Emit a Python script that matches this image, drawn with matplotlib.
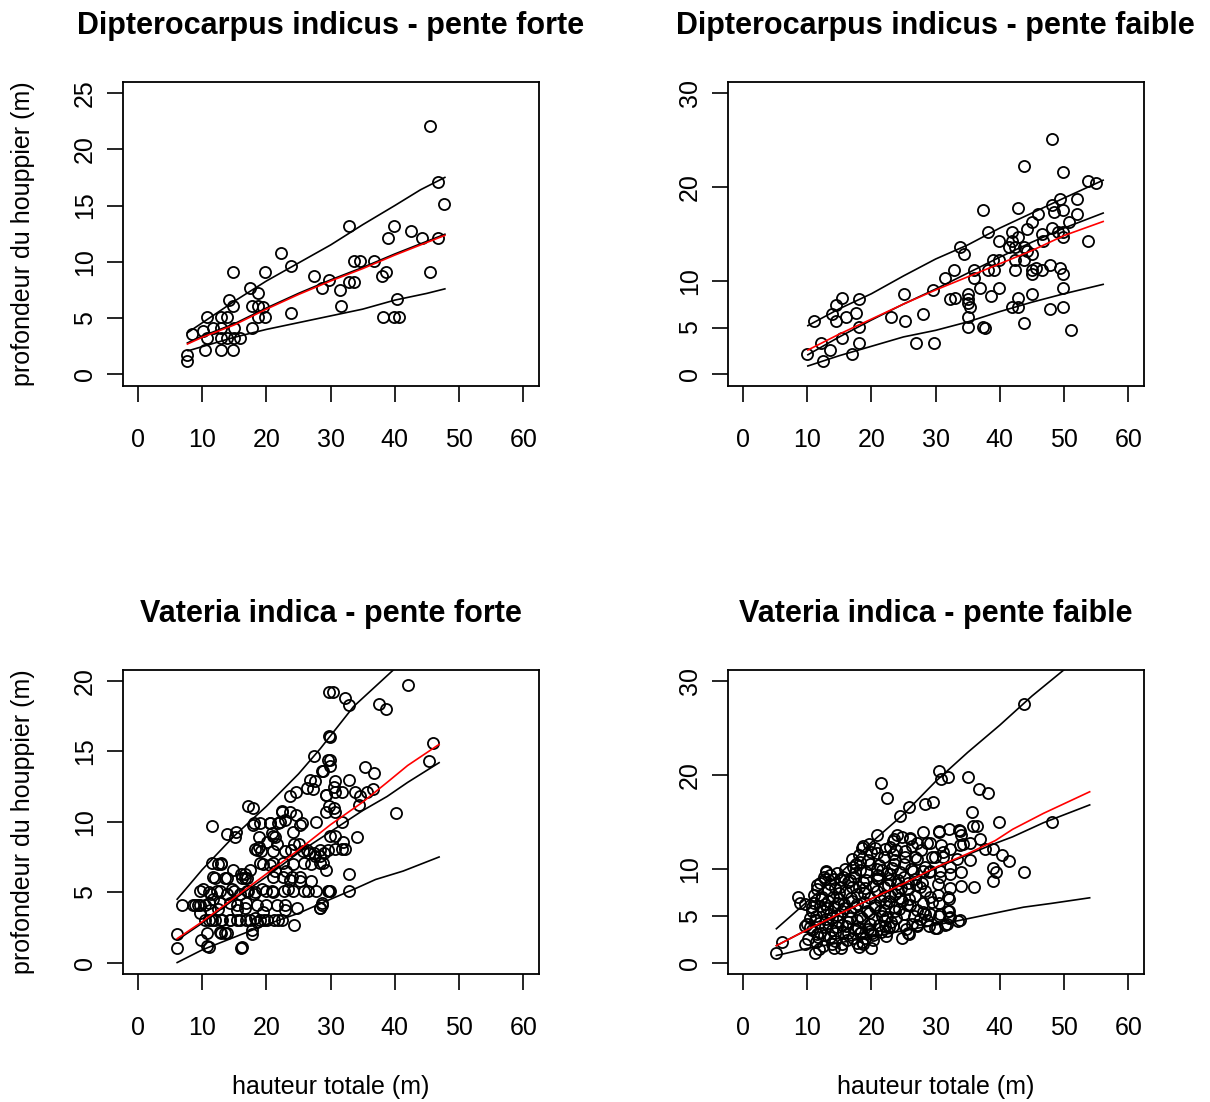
import matplotlib.pyplot as plt

plt.rcParams['font.family'] = ['Liberation Sans', 'DejaVu Sans']

W, H = 1210, 1102

# ---- Dipterocarpus indicus - pente forte
p1_x = [45.5, 46.8, 47.7, 32.8, 39.8, 42.5, 38.9, 44.3, 46.8, 22.3, 23.8, 14.8, 19.8, 33.7, 34.6,
        36.8, 27.4, 29.8, 28.7, 31.4, 32.8, 33.7, 38.0, 38.6, 45.5, 31.6, 40.4, 38.2, 39.9, 40.7,
        17.5, 18.7, 14.1, 14.8, 17.7, 18.7, 19.5, 19.8, 18.7, 23.8, 10.7, 12.9, 13.8, 17.7, 10.2,
        8.4, 11.7, 13.0, 14.9, 10.8, 13.0, 13.8, 14.9, 15.9, 10.5, 12.9, 14.8, 7.7, 7.7]
p1_y = [22.1, 17.1, 15.1, 13.2, 13.2, 12.7, 12.1, 12.1, 12.1, 10.8, 9.6, 9.1, 9.1, 10.1, 10.1,
        10.1, 8.7, 8.4, 7.7, 7.5, 8.2, 8.2, 8.7, 9.1, 9.1, 6.1, 6.7, 5.1, 5.1, 5.1,
        7.7, 7.2, 6.6, 6.1, 6.1, 6.1, 6.0, 5.1, 5.1, 5.5, 5.1, 5.1, 5.1, 4.1, 3.9,
        3.6, 4.1, 4.1, 4.1, 3.2, 3.2, 3.2, 3.2, 3.2, 2.2, 2.2, 2.2, 1.7, 1.2]
p1_haut_x = [7.7, 15, 20, 25, 30, 35, 40, 44, 47.8]
p1_haut_y = [3.7, 6.5, 8.3, 9.9, 11.5, 13.3, 15.0, 16.4, 17.5]
p1_moy_x = [7.7, 10, 15, 20, 25, 30, 35, 40, 44, 47.8]
p1_moy_y = [2.7, 3.3, 4.4, 5.8, 7.1, 8.3, 9.4, 10.6, 11.5, 12.35]
p1_med_y = [2.8, 3.4, 4.5, 5.9, 7.2, 8.4, 9.5, 10.7, 11.6, 12.45]
p1_bas_x = [7.8, 15, 20, 25, 30, 35, 40, 45, 47.8]
p1_bas_y = [2.1, 3.3, 4.0, 4.6, 5.2, 5.8, 6.6, 7.2, 7.6]

# ---- Dipterocarpus indicus - pente faible
p2_x = [48.1, 43.8, 49.8, 53.8, 55.0, 52.0, 49.3, 48.1, 49.8, 48.4, 52.0, 45.9, 42.9, 37.4, 45.0,
        50.8, 44.3, 48.1, 49.1, 49.8, 46.5, 49.8, 41.9, 38.1, 46.8, 42.9, 39.9, 41.9, 53.8, 41.5,
        42.3, 43.8, 33.8, 34.4, 44.3, 45.0, 38.9, 39.9, 42.3, 43.8, 47.8, 49.3, 45.6, 45.0, 46.5,
        49.8, 45.0, 42.3, 36.0, 38.1, 39.1, 32.9, 31.4, 36.0, 36.9, 39.9, 49.8, 29.6, 25.1, 35.1,
        45.0, 38.6, 42.9, 32.3, 33.0, 35.1, 35.1, 35.4, 41.9, 42.9, 47.8, 49.8, 35.1, 43.8, 35.1,
        37.4, 37.7, 51.1, 28.1, 25.3, 23.0, 26.9, 29.8, 15.4, 14.5, 18.1, 13.8, 16.0, 17.6, 14.5,
        11.1, 18.1, 15.4, 12.1, 18.1, 13.6, 16.9, 10.0, 12.4]
p2_y = [25.1, 22.2, 21.6, 20.6, 20.4, 18.7, 18.7, 18.1, 17.5, 17.3, 17.1, 17.1, 17.7, 17.5, 16.3,
        16.3, 15.5, 15.6, 15.2, 15.2, 15.0, 14.6, 15.2, 15.2, 14.2, 14.6, 14.2, 14.2, 14.2, 13.6,
        13.6, 13.6, 13.6, 12.8, 13.2, 12.8, 12.2, 12.2, 12.2, 12.2, 11.7, 11.3, 11.3, 11.1, 11.1,
        10.7, 10.7, 11.1, 11.1, 11.1, 11.1, 11.1, 10.3, 10.3, 9.2, 9.2, 9.2, 9.0, 8.6, 8.6,
        8.6, 8.4, 8.2, 8.0, 8.1, 8.0, 7.6, 7.2, 7.2, 7.2, 7.0, 7.2, 6.1, 5.5, 5.1,
        5.1, 4.9, 4.7, 6.4, 5.7, 6.1, 3.3, 3.3, 8.2, 7.4, 8.0, 6.4, 6.1, 6.6, 5.7,
        5.7, 5.1, 3.9, 3.3, 3.3, 2.6, 2.2, 2.2, 1.4]
p2_haut_x = [10.1, 15, 20, 25, 30, 35, 40, 45, 50, 56.1]
p2_haut_y = [5.2, 7.0, 8.6, 10.5, 12.3, 13.8, 15.6, 17.2, 18.8, 20.7]
p2_moy_x = [10.1, 15, 20, 25, 30, 35, 40, 45, 50, 56.1]
p2_moy_y = [2.6, 4.3, 5.9, 7.5, 9.0, 10.4, 11.8, 13.2, 14.8, 16.3]
p2_med_y = [2.1, 4.0, 5.8, 7.5, 9.1, 10.8, 12.5, 14.1, 15.6, 17.2]
p2_bas_x = [10.1, 15, 20, 25, 30, 35, 40, 45, 50, 56.1]
p2_bas_y = [0.9, 2.0, 3.0, 4.0, 4.7, 5.6, 6.7, 7.7, 8.6, 9.6]

# ---- Vateria indica - pente forte
p3_x = [29.8, 29.8, 27.4, 29.6, 28.6, 26.8, 27.6, 26.3, 24.6, 23.7, 27.2, 29.3, 17.2, 17.9, 22.5,
        24.6, 25.2, 29.8, 11.6, 13.8, 15.1, 15.3, 17.9, 19.0, 20.5, 21.8, 22.9, 18.9, 20.1, 21.1,
        21.6, 18.5, 19.2, 21.0, 22.9, 24.3, 25.7, 26.6, 27.6, 28.4, 28.9, 29.6, 19.0, 21.1, 22.6,
        24.2, 25.8, 27.0, 28.4, 11.6, 12.9, 14.8, 16.0, 16.6, 17.5, 11.7, 13.5, 16.7, 21.1, 22.6,
        23.7, 25.2, 27.0, 10.2, 11.3, 12.8, 13.9, 14.9, 15.9, 17.0, 18.0, 19.9, 21.1, 22.8, 24.2,
        25.8, 27.8, 29.6, 6.8, 8.9, 9.6, 11.0, 11.7, 12.8, 14.4, 15.4, 16.8, 18.5, 19.9, 21.6,
        22.9, 24.7, 28.4, 28.6, 9.7, 11.0, 12.0, 13.1, 14.4, 15.4, 16.8, 18.3, 18.5, 19.7, 21.2,
        21.8, 24.3, 17.7, 17.7, 12.8, 13.6, 6.1, 10.7, 9.8, 10.7, 6.0, 16.0,
        42.0, 30.4, 32.3, 32.9, 37.5, 38.6, 29.9, 45.9, 45.3, 29.9, 29.9, 28.8, 35.3, 36.8, 32.9,
        30.7, 30.5, 29.3, 30.7, 31.7, 33.8, 34.6, 35.6, 36.6, 34.5, 30.5, 29.3, 30.7, 40.2, 31.7,
        29.9, 30.7, 34.1, 30.7, 31.7, 32.3, 32.0, 28.4, 28.8, 29.3, 32.9, 32.9, 29.9, 28.6, 28.4,
        18.0, 20.6, 22.1, 20.8, 21.4, 18.8, 18.2, 22.4, 23.7, 25.5, 27.7, 24.2, 25.0, 23.9, 26.3,
        27.4, 19.5, 20.6, 21.3, 23.0, 24.0, 25.3, 12.5, 13.0, 12.0, 13.8, 16.2, 16.9, 9.7, 11.0,
        12.3, 14.6, 17.2, 18.2, 19.3, 20.8, 23.4, 26.5, 8.6, 9.4, 10.4, 11.2, 12.5, 15.4, 16.7,
        19.5, 22.9, 10.4, 11.5, 13.0, 14.3, 15.9, 17.5, 19.0, 20.1, 22.4, 13.0, 13.8, 11.0, 16.2,
        29.7]
p3_y = [19.2, 16.1, 14.7, 14.4, 13.6, 13.0, 12.9, 12.4, 12.1, 11.8, 12.3, 11.9, 11.1, 11.0, 10.8,
        10.5, 9.8, 11.1, 9.7, 9.1, 8.9, 9.3, 9.8, 9.9, 9.9, 9.9, 10.1, 8.9, 8.6, 9.0,
        8.4, 8.0, 7.9, 7.9, 7.9, 8.4, 7.9, 7.8, 7.6, 7.6, 7.8, 8.0, 7.1, 7.1, 7.1,
        7.0, 7.1, 7.0, 7.1, 7.1, 7.1, 6.6, 6.3, 6.3, 6.6, 6.1, 6.0, 6.0, 6.1, 6.1,
        5.9, 6.1, 5.8, 5.2, 4.9, 5.1, 4.9, 5.1, 4.9, 5.1, 4.9, 5.1, 5.0, 5.1, 5.1,
        5.1, 5.1, 5.1, 4.1, 4.1, 4.1, 4.2, 4.5, 4.2, 4.2, 4.1, 4.2, 4.1, 4.1, 4.1,
        4.1, 3.9, 3.9, 4.2, 3.5, 3.0, 3.0, 3.0, 3.0, 3.0, 3.0, 3.2, 2.9, 3.0, 3.0,
        3.0, 2.7, 2.3, 2.0, 2.2, 2.1, 2.0, 2.1, 1.6, 1.2, 1.0, 1.0,
        19.7, 19.2, 18.8, 18.3, 18.4, 18.0, 16.0, 15.6, 14.3, 14.4, 14.0, 13.6, 13.9, 13.5, 13.0,
        12.9, 12.5, 11.9, 12.1, 12.1, 12.1, 11.8, 12.1, 12.3, 11.2, 11.0, 10.7, 10.7, 10.6, 10.0,
        9.0, 9.0, 8.9, 8.1, 8.1, 8.1, 8.6, 8.0, 7.1, 6.6, 6.3, 5.1, 5.1, 4.1, 3.9,
        9.9, 9.9, 10.0, 9.2, 8.9, 8.2, 8.1, 10.7, 10.7, 9.9, 10.0, 9.3, 8.4, 8.0, 8.0,
        7.8, 7.0, 6.9, 6.5, 6.5, 6.1, 5.8, 7.0, 7.0, 6.0, 6.0, 6.0, 6.0, 5.1, 5.0,
        5.1, 5.2, 5.1, 5.0, 5.2, 5.1, 5.2, 5.1, 4.1, 4.1, 4.1, 3.7, 3.8, 3.7, 3.9,
        3.6, 3.7, 3.0, 3.0, 3.0, 3.0, 3.0, 3.0, 3.0, 3.0, 3.0, 2.1, 2.1, 1.1, 1.1,
        5.1]
p3_haut_x = [6.1, 10, 15, 20, 25, 28.4, 33.6, 39.8, 45, 47]
p3_haut_y = [4.5, 6.6, 9.0, 11.1, 13.4, 15.2, 18.2, 20.8, 23.5, 24.5]
p3_moy_x = [6.1, 10, 15, 20, 25, 30, 35, 38.8, 42, 46.9]
p3_moy_y = [1.7, 2.9, 4.6, 6.3, 8.0, 9.8, 11.4, 12.8, 14.0, 15.5]
p3_med_y = [1.6, 2.8, 4.5, 6.1, 7.8, 9.3, 10.8, 11.8, 12.8, 14.2]
p3_bas_x = [6.1, 10, 15, 20, 25, 30, 33.6, 37, 41.3, 46.9]
p3_bas_y = [0.0, 0.9, 1.8, 2.7, 3.5, 4.5, 5.2, 5.9, 6.5, 7.5]

# ---- Vateria indica - pente faible
p4_x = [43.8, 21.5, 22.4, 30.5, 30.9, 31.9, 35.0, 36.8, 38.1, 28.3, 29.6, 25.9, 24.5, 35.6, 35.9,
        36.4, 39.9, 48.1, 20.8, 23.5, 24.0, 26.0, 28.1, 30.6, 32.1, 33.6, 33.9, 36.9, 35.4, 34.3,
        30.8, 28.6, 27.1, 37.7, 39.0, 40.4, 41.5, 43.8, 39.0, 39.4, 39.0, 36.0, 33.9, 33.9, 32.2,
        32.2, 32.2, 32.1, 32.1, 32.1, 33.8, 31.5, 30.6, 29.9, 27.1, 25.9, 25.0, 22.8, 28.7, 30.6,
        29.1, 28.1, 30.4, 30.7, 29.1, 28.1, 26.8, 27.6, 26.0, 24.7, 20.0, 20.1, 22.1, 31.2, 29.9,
        26.8, 25.2, 22.9, 21.9, 23.5, 25.0, 26.5, 22.9, 21.1, 24.0, 25.7, 22.9, 21.3, 23.6, 22.0,
        28.1, 25.0, 30.5, 33.8, 29.1, 32.2, 33.8, 31.2, 29.4, 33.4, 35.4, 30.7, 29.0, 32.0, 30.4,
        29.4, 29.1, 30.7, 32.0, 32.2, 31.7, 33.5, 29.0, 30.2, 18.6, 20.6, 22.1, 23.4, 24.7, 26.0,
        17.2, 18.3, 19.8, 23.7, 25.2, 27.1, 28.3, 16.7, 18.7, 20.9, 22.4, 24.1, 25.7, 27.9, 17.7,
        19.8, 21.9, 24.4, 26.8, 28.3, 17.4, 19.3, 21.4, 23.5, 25.5, 27.1, 28.3, 17.7, 19.8, 21.9,
        23.9, 26.3, 27.1, 18.2, 20.3, 22.4, 25.7, 17.2, 18.7, 5.1, 6.0, 8.5, 8.9, 9.7, 9.9,
        9.7, 11.2, 13.0, 14.1, 15.6, 12.3, 10.7, 11.2, 10.7, 12.5, 13.3, 14.0, 15.1, 16.1, 11.7,
        12.8, 13.5, 14.6, 15.4, 16.4, 13.9, 15.4, 16.6, 11.8, 18.7, 13.0, 9.7, 18.5, 11.0, 11.5,
        12.0, 12.8, 13.5, 14.2, 14.8, 15.0, 15.8, 16.3, 17.0, 17.5, 18.0, 18.3, 18.9, 19.2, 19.5,
        20.2, 20.5, 20.8, 21.2, 21.6, 22.2, 22.6, 23.1, 23.3, 24.2, 24.5, 24.8, 12.0, 11.4, 13.2,
        14.4, 16.0, 17.9, 19.0, 10.4, 12.6, 14.6, 18.0, 19.6,
        10.2, 10.5, 10.8, 11.0, 11.3, 11.6, 11.8, 12.0, 12.2, 11.5,
        12.4, 12.6, 12.9, 13.1, 13.3, 13.5, 12.7, 13.8, 13.9, 13.6,
        14.2, 14.4, 14.6, 14.8, 15.0, 15.2, 15.4, 15.6, 15.8, 15.9, 14.3, 15.3,
        16.2, 16.4, 16.6, 16.8, 17.0, 17.3, 17.5, 17.7, 17.8, 16.9, 17.6,
        18.1, 18.4, 18.6, 18.8, 19.0, 19.2, 19.4, 19.6, 19.8, 18.3, 19.9,
        20.2, 20.4, 20.6, 20.8, 21.0, 21.2, 21.5, 21.7, 21.9, 20.9,
        22.2, 22.5, 22.7, 22.9, 23.2, 23.4, 23.7, 23.9,
        24.3, 24.6, 25.1, 25.4, 25.8, 26.2, 26.6, 27.0, 27.5, 27.8, 26.4]
p4_y = [27.6, 19.1, 17.5, 20.4, 19.6, 19.8, 19.8, 18.5, 18.1, 16.9, 17.1, 16.6, 15.6, 16.0, 14.6,
        14.6, 15.0, 15.0, 13.6, 13.2, 13.6, 13.2, 13.9, 13.9, 14.2, 14.1, 13.6, 13.2, 12.7, 12.6,
        12.5, 12.7, 12.7, 12.1, 12.1, 11.5, 10.8, 9.6, 10.1, 9.6, 8.7, 8.0, 8.2, 9.6, 10.2,
        9.4, 7.9, 6.8, 5.5, 4.8, 4.5, 4.0, 5.0, 3.7, 4.0, 3.0, 4.0, 3.8, 4.5, 6.3,
        7.0, 6.3, 8.4, 9.8, 9.8, 9.8, 8.9, 8.0, 6.1, 6.6, 1.6, 3.1, 3.9, 11.8, 11.2,
        11.2, 11.9, 12.3, 11.2, 10.5, 10.5, 9.8, 9.4, 8.9, 8.4, 7.8, 7.1, 6.7, 5.5, 5.6,
        5.4, 5.2, 14.0, 14.0, 12.7, 12.1, 12.5, 11.2, 11.2, 11.0, 10.9, 9.1, 9.6, 7.0, 7.2,
        6.4, 5.2, 5.2, 5.5, 4.9, 4.1, 4.4, 3.9, 3.7, 12.2, 12.2, 12.1, 13.0, 13.4, 13.3,
        10.2, 10.7, 10.5, 10.9, 11.2, 11.0, 10.2, 8.8, 8.6, 9.0, 9.5, 8.8, 8.5, 8.5, 7.3,
        6.9, 7.1, 6.9, 7.1, 7.6, 5.9, 5.5, 5.5, 5.9, 6.1, 5.6, 5.2, 4.5, 4.1, 4.5,
        4.8, 4.1, 3.9, 3.1, 2.9, 3.4, 3.1, 2.6, 2.0, 1.0, 2.2, 7.0, 6.3, 6.2, 4.1,
        2.0, 1.0, 9.8, 8.9, 9.1, 7.0, 5.5, 4.5, 3.5, 5.5, 7.7, 7.0, 8.1, 7.5, 2.7,
        3.8, 2.7, 3.8, 2.0, 3.1, 4.8, 5.5, 4.8, 1.4, 12.4, 9.6, 3.9, 2.2, 6.3, 7.8,
        8.5, 6.2, 5.2, 6.0, 4.4, 6.8, 6.2, 8.6, 6.6, 9.5, 8.0, 5.0, 7.4, 9.6, 3.6,
        8.2, 5.9, 10.0, 4.0, 9.9, 6.3, 8.3, 4.3, 11.6, 7.6, 9.7, 2.6, 3.2, 5.0, 4.2,
        2.3, 3.9, 3.7, 2.6, 4.8, 9.1, 9.5, 11.5, 12.6,
        2.5, 3.8, 5.9, 7.2, 2.2, 3.0, 4.2, 6.0, 6.8, 8.3,
        1.8, 2.9, 4.6, 5.8, 6.6, 8.4, 8.9, 3.5, 2.0, 9.3,
        1.6, 3.2, 5.1, 6.3, 7.4, 8.8, 4.0, 3.3, 5.8, 10.0, 7.9, 1.5,
        2.4, 4.3, 5.5, 6.9, 8.0, 9.1, 3.6, 2.1, 6.2, 11.0, 10.5,
        1.7, 3.3, 4.7, 6.4, 7.9, 8.8, 10.9, 5.3, 3.4, 9.9, 11.8,
        2.4, 4.6, 6.1, 7.6, 9.3, 10.4, 3.3, 5.0, 8.0, 11.7,
        2.8, 4.9, 6.6, 8.8, 10.1, 3.9, 7.3, 12.0,
        5.7, 7.9, 9.1, 3.6, 6.8, 10.0, 5.0, 8.3, 4.6, 12.0, 12.4]
p4_haut_x = [5.2, 10, 15, 20, 25, 30, 35, 40, 45, 50, 54]
p4_haut_y = [3.6, 6.5, 9.4, 12.8, 15.8, 19.3, 22.4, 25.3, 28.4, 31.2, 33.5]
p4_moy_x = [5.2, 10, 15, 20, 25, 30.2, 35, 39.3, 42, 46.8, 54]
p4_moy_y = [1.8, 3.5, 5.2, 6.8, 8.4, 10.2, 11.6, 13.0, 14.2, 15.9, 18.2]
p4_med_y = [1.8, 3.5, 5.2, 6.8, 8.4, 10.1, 11.5, 12.7, 13.4, 14.9, 16.8]
p4_bas_x = [5.2, 10, 15, 19.8, 25, 30, 33.8, 38, 43.7, 48, 54]
p4_bas_y = [0.75, 1.5, 2.1, 2.7, 3.4, 4.0, 4.5, 5.1, 5.9, 6.3, 6.9]

titres = ["Dipterocarpus indicus - pente forte", "Dipterocarpus indicus - pente faible",
          "Vateria indica - pente forte", "Vateria indica - pente faible"]
yticks_sets = [[0, 5, 10, 15, 20, 25], [0, 5, 10, 20, 30], [0, 5, 10, 15, 20], [0, 5, 10, 20, 30]]
ylims = [(0, 25), (0, 30), (0, 20), (0, 30)]
xticks = [0, 10, 20, 30, 40, 50, 60]

panneaux = [
    (p1_x, p1_y, p1_haut_x, p1_haut_y, p1_moy_x, p1_moy_y, p1_med_y, p1_bas_x, p1_bas_y),
    (p2_x, p2_y, p2_haut_x, p2_haut_y, p2_moy_x, p2_moy_y, p2_med_y, p2_bas_x, p2_bas_y),
    (p3_x, p3_y, p3_haut_x, p3_haut_y, p3_moy_x, p3_moy_y, p3_med_y, p3_bas_x, p3_bas_y),
    (p4_x, p4_y, p4_haut_x, p4_haut_y, p4_moy_x, p4_moy_y, p4_med_y, p4_bas_x, p4_bas_y),
]

# boites des panneaux en pixels (gauche, haut)
boites = [(122.6, 81.7), (727.6, 81.7), (122.6, 669.8), (727.6, 669.8)]
bw, bh = 416.0, 304.0

fig = plt.figure(figsize=(W / 100, H / 100), dpi=100)

for i, (px, py, hx, hy, mx, my, medy, bx, by) in enumerate(panneaux):
    l, t = boites[i]
    ax = fig.add_axes([l / W, 1 - (t + bh) / H, bw / W, bh / H])
    ax.plot(px, py, 'o', mfc='none', mec='black', ms=8, mew=1.3, zorder=2)
    ax.plot(hx, hy, color='black', lw=1.2, zorder=3)
    ax.plot(mx, medy, color='black', lw=1.2, zorder=3)
    ax.plot(bx, by, color='black', lw=1.2, zorder=3)
    ax.plot(mx, my, color='red', lw=1.2, zorder=4)

    y0, y1 = ylims[i]
    dy = (y1 - y0) * 0.04
    ax.set_xlim(-2.4, 62.4)
    ax.set_ylim(y0 - dy, y1 + dy)
    ax.set_xticks(xticks)
    ax.set_yticks(yticks_sets[i])
    ax.tick_params(direction='out', length=11.5, width=1.2, labelsize=18, colors='black')
    ax.tick_params(axis='x', pad=19)
    ax.tick_params(axis='y', pad=7)
    for lab in ax.get_yticklabels():
        lab.set_rotation(90)
        lab.set_va('center')
    for s in ax.spines.values():
        s.set_linewidth(1.3)

    fig.text((l + bw / 2) / W, 1 - (t - 47.7) / H, titres[i], ha='center', va='baseline',
             fontsize=22, fontweight='bold')

# titres des axes
for t in (81.7, 669.8):
    fig.text(23 / W, 1 - (t + bh / 2) / H, "profondeur du houppier (m)", rotation=90,
             ha='center', va='center', fontsize=18)
for l in (122.6, 727.6):
    fig.text((l + bw / 2) / W, 1 - 1087 / H, "hauteur totale (m)", ha='center', va='center',
             fontsize=18)

fig.savefig('out.png', dpi=100, facecolor='white')
